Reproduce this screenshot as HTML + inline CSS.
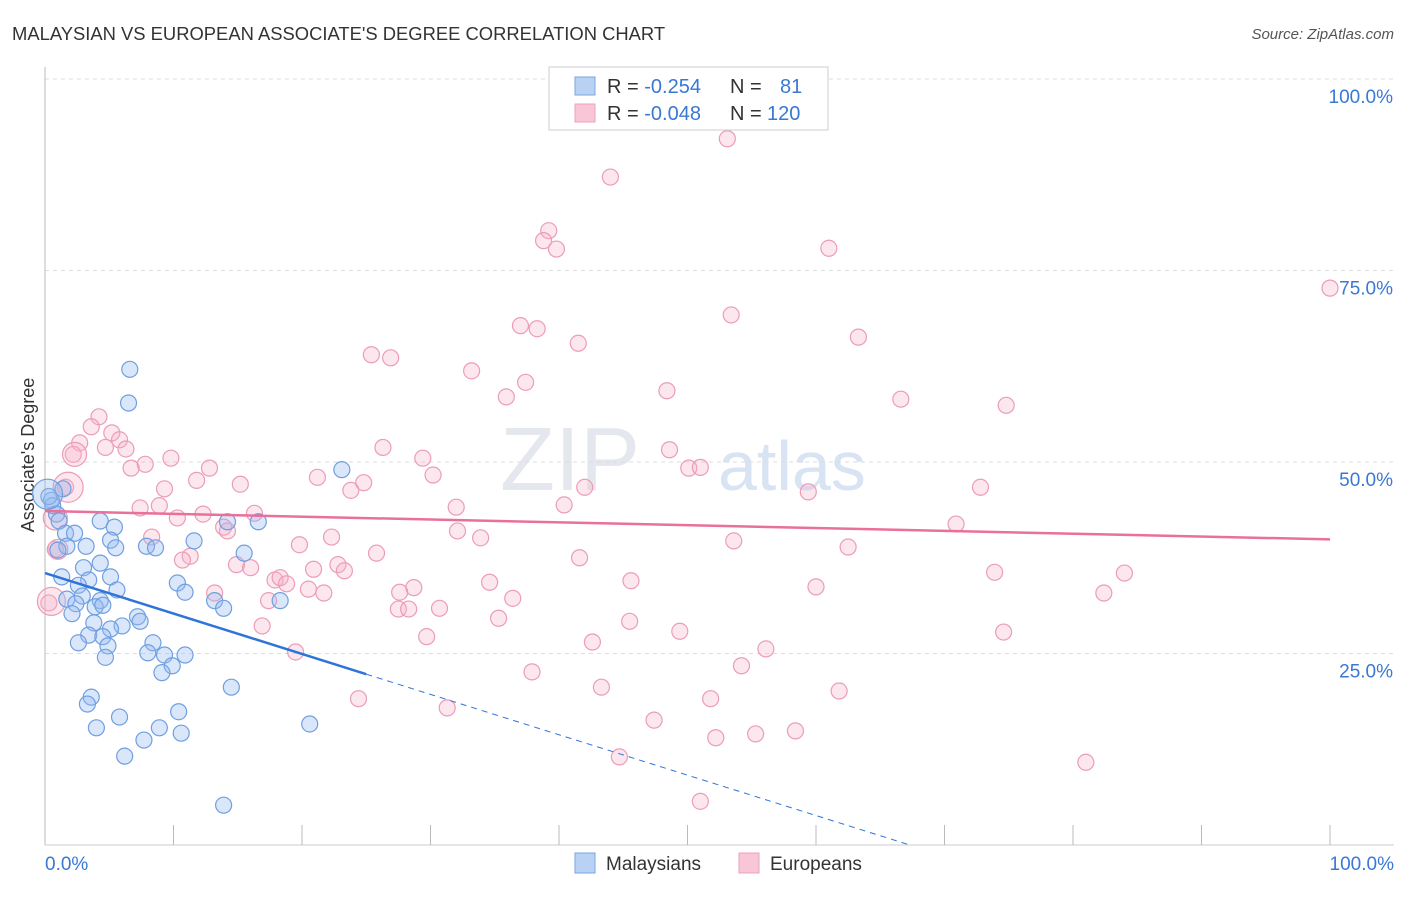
<!DOCTYPE html>
<html><head><meta charset="utf-8"><style>
body{margin:0;background:#fff;font-family:"Liberation Sans",sans-serif}
svg text{font-family:"Liberation Sans",sans-serif}
</style></head><body>
<svg id="chart" width="1406" height="892" xmlns="http://www.w3.org/2000/svg">
<text x="12" y="40" font-size="18.4" fill="#333">MALAYSIAN VS EUROPEAN ASSOCIATE'S DEGREE CORRELATION CHART</text>
<text x="1394" y="39" font-size="15" fill="#555" font-style="italic" text-anchor="end">Source: ZipAtlas.com</text>
<text x="640" y="490" font-size="90" fill="#e4e8ee" font-family="Liberation Serif" text-anchor="end">ZIP</text>
<text x="718" y="490" font-size="70" fill="#d8e4f4">atlas</text>
<text transform="translate(34,455) rotate(-90)" font-size="18" fill="#333" text-anchor="middle">Associate's Degree</text>
<g id="grid"></g><g id="pts"></g><g id="lines"></g>
<g>
<rect x="549" y="67" width="279" height="63" fill="#fff" stroke="#ccc"/>
<rect x="575" y="77" width="20" height="18" fill="#b9d1f3" stroke="#7aa6e0"/>
<rect x="575" y="104" width="20" height="18" fill="#f8c6d6" stroke="#eea2bb"/>
<text x="607" y="93" font-size="20" fill="#333">R = <tspan fill="#3a78d4">-0.254</tspan><tspan x="730">N = </tspan><tspan x="780" fill="#3a78d4">81</tspan></text>
<text x="607" y="120" font-size="20" fill="#333">R = <tspan fill="#3a78d4">-0.048</tspan><tspan x="730">N = </tspan><tspan x="767" fill="#3a78d4">120</tspan></text>
</g>
<g>
<rect x="575" y="853" width="20" height="20" fill="#b9d1f3" stroke="#7aa6e0"/>
<text x="606" y="870" font-size="19" fill="#333">Malaysians</text>
<rect x="739" y="853" width="20" height="20" fill="#f8c6d6" stroke="#eea2bb"/>
<text x="770" y="870" font-size="19" fill="#333">Europeans</text>
</g>
<text x="45" y="870" font-size="19" fill="#3a78d4">0.0%</text>
<text x="1394" y="870" font-size="19" fill="#3a78d4" text-anchor="end">100.0%</text>
</svg>
<script>
const yTicks=[100,75,50,25];
const yTickLabels=["100.0%","75.0%","50.0%","25.0%"];
const xTicks=[0,10,20,30,40,50,60,70,80,90,100];
const blueX=[6.6,6.5,23.1,1.4,0.5,0.6,0.3,0.9,1.1,4.3,14.2,16.6,5.4,1.6,2.3,5.1,11.6,1.7,3.2,5.5,7.9,8.6,1.0,15.5,4.3,3.0,1.3,5.1,3.4,10.3,2.6,5.6,10.9,2.9,1.7,4.3,2.4,13.2,18.3,3.9,4.5,13.9,2.1,7.2,7.4,3.8,6.0,5.1,3.4,4.5,2.6,4.9,8.4,8.0,9.3,10.9,4.7,9.9,9.1,14.5,3.6,3.3,10.4,5.8,20.6,4.0,8.9,10.6,7.7,6.2,13.9];
const blueY=[62.1,57.7,49.0,46.5,45.0,44.3,45.5,43.2,42.3,42.3,42.2,42.2,41.5,40.7,40.7,39.8,39.7,39.0,39.0,38.8,39.0,38.8,38.5,38.1,36.8,36.2,35.0,35.0,34.6,34.2,33.9,33.3,33.0,32.5,32.1,31.9,31.5,31.9,31.9,31.1,31.3,30.9,30.2,29.8,29.2,29.0,28.6,28.2,27.4,27.2,26.4,26.0,26.4,25.1,24.8,24.8,24.5,23.4,22.5,20.6,19.3,18.4,17.4,16.7,15.8,15.3,15.3,14.6,13.7,11.6,5.2];
const pinkX=[53.1,44.0,39.2,38.8,39.8,61.0,100,53.4,37.0,38.3,63.3,41.5,25.4,26.9,33.2,37.4,48.4,35.9,66.6,74.8,4.2,3.6,5.2,5.8,2.7,4.7,26.3,6.3,48.6,2.2,9.8,29.4,7.8,6.7,50.1,51.0,12.8,30.2,21.2,11.8,24.8,15.2,42.0,1.6,72.8,9.3,23.8,59.4,8.9,7.4,40.4,32.0,16.3,12.3,10.3,13.9,70.9,14.2,32.1,8.3,22.3,33.9,53.6,19.8,62.5,0.8,25.8,11.3,10.7,41.6,14.9,16.0,22.8,20.9,23.3,73.9,84.0,17.9,18.3,18.8,34.6,45.6,60.0,20.5,28.7,27.6,13.2,21.7,82.4,17.4,36.4,0.3,27.5,28.3,30.7,35.3,45.5,16.9,49.4,74.6,29.7,42.6,56.1,19.5,54.2,37.9,43.3,61.8,51.8,24.4,31.3,47.4,58.4,55.3,52.2,44.7,81.0,51.0];
const pinkY=[92.2,87.2,80.2,78.9,77.8,77.9,72.7,69.2,67.8,67.4,66.3,65.5,64.0,63.6,61.9,60.4,59.3,58.5,58.2,57.4,55.9,54.6,53.8,52.9,52.5,51.9,51.9,51.7,51.6,51.0,50.5,50.5,49.7,49.2,49.2,49.3,49.2,48.3,48.0,47.6,47.3,47.1,46.7,46.7,46.7,46.5,46.3,46.1,44.3,44.0,44.4,44.1,43.3,43.2,42.7,41.5,41.9,41.0,41.0,40.2,40.2,40.1,39.7,39.2,38.9,38.6,38.1,37.7,37.2,37.5,36.6,36.2,36.6,36.0,35.8,35.6,35.5,34.6,34.9,34.1,34.3,34.5,33.7,33.4,33.6,33.0,32.9,32.9,32.9,31.9,32.2,31.6,30.8,30.8,30.9,29.6,29.2,28.6,27.9,27.8,27.2,26.5,25.6,25.2,23.4,22.6,20.6,20.1,19.1,19.1,17.9,16.3,14.9,14.5,14.0,11.5,10.8,5.7];
const bigBlue=[[0.2,45.8,15]];
const bigPink=[[1.8,46.7,15],[2.3,51.0,12],[0.5,31.8,14],[0.8,42.7,12],[1.0,38.6,10]];
const blueLine=[[0,35.5],[25,22.3],[67.3,0]];
const pinkLine=[[0,43.6],[100,39.9]];
const X=v=>45+v*12.85, Y=v=>845-v*7.66;
const NS="http://www.w3.org/2000/svg";
function mk(tag,attrs,parent){const e=document.createElementNS(NS,tag);for(const k in attrs)e.setAttribute(k,attrs[k]);parent.appendChild(e);return e;}
const grid=document.getElementById('grid');
yTicks.forEach((t,i)=>{
 const l=mk('line',{x1:45,x2:1394,y1:Y(t),y2:Y(t),stroke:'#ddd','stroke-dasharray':'4,4'},grid);
 
 
 const tx=mk('text',{x:1393,y:Y(t)+24,'font-size':19,fill:'#3a78d4','text-anchor':'end'},grid);
 tx.textContent=yTickLabels[i];
 
 
});
const ax=mk('line',{x1:45,x2:45,y1:67,y2:845,stroke:'#bbb'},grid);


const bx=mk('line',{x1:45,x2:1394,y1:845,y2:845,stroke:'#ccc'},grid);


xTicks.forEach(t=>{
 const l=mk('line',{x1:X(t),x2:X(t),y1:825,y2:845,stroke:'#bbb'},grid);
 
 
});
const pts=document.getElementById('pts');
function dot(x,y,r,blue){
 const c=mk('circle',{cx:X(x),cy:Y(y),r:r,fill:blue?'rgba(150,185,240,0.35)':'rgba(246,175,198,0.3)',stroke:blue?'#6f9fe0':'#ec9cb7','stroke-width':1.2},pts);
 
 
}
pinkX.forEach((x,i)=>dot(x,pinkY[i],8,false));
bigPink.forEach(p=>dot(p[0],p[1],p[2],false));
blueX.forEach((x,i)=>dot(x,blueY[i],8,true));
bigBlue.forEach(p=>dot(p[0],p[1],p[2],true));
const lines=document.getElementById('lines');
const b1=mk('line',{x1:X(blueLine[0][0]),y1:Y(blueLine[0][1]),x2:X(blueLine[1][0]),y2:Y(blueLine[1][1]),stroke:'#2f74d8','stroke-width':2.5},lines);


const b2=mk('line',{x1:X(blueLine[1][0]),y1:Y(blueLine[1][1]),x2:X(blueLine[2][0]),y2:Y(blueLine[2][1]),stroke:'#2f74d8','stroke-width':1,'stroke-dasharray':'6,5'},lines);


const p1=mk('line',{x1:X(pinkLine[0][0]),y1:Y(pinkLine[0][1]),x2:X(pinkLine[1][0]),y2:Y(pinkLine[1][1]),stroke:'#e8709a','stroke-width':2.5},lines);


</script>
</body></html>
